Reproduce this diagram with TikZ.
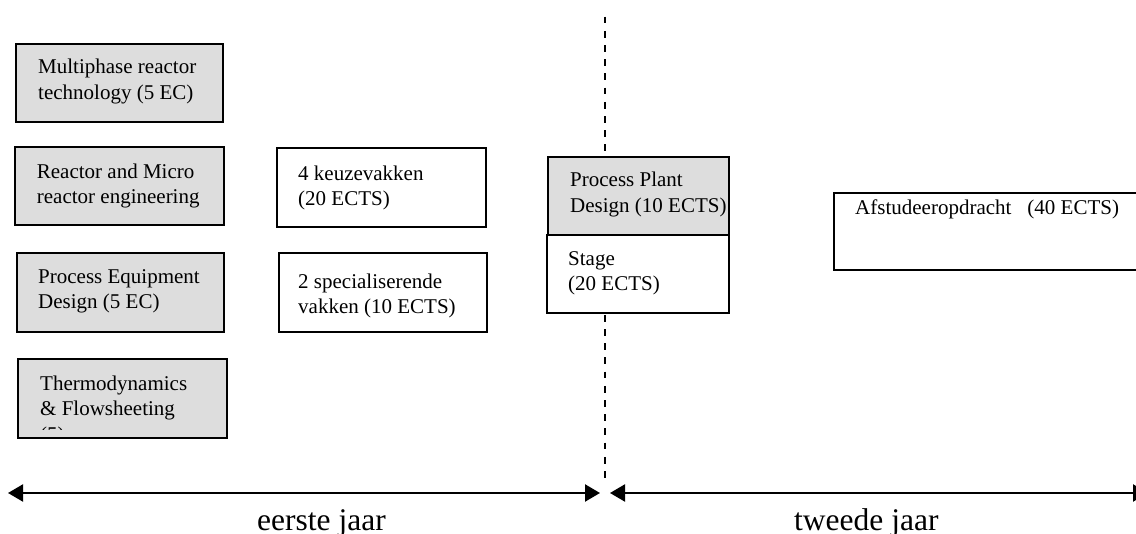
\documentclass[tikz,border=0pt]{standalone}
\usepackage{fontspec}
\setmainfont{Liberation Serif}
\usetikzlibrary{arrows.meta,fit}
\definecolor{boxgray}{RGB}{221,221,221}
\begin{document}
\begin{tikzpicture}[x=1pt,y=-1pt,
  frame/.style={draw=black, line width=1.6pt, inner sep=0pt},
  gbox/.style={frame, fill=boxgray},
  wbox/.style={frame, fill=white},
  txt/.style={inner sep=0pt, anchor=north west, align=left, font=\fontsize{21}{25.5}\selectfont},
  lbl/.style={inner sep=0pt, anchor=base west, font=\fontsize{31.5}{38}\selectfont},
  dashline/.style={line width=1.8pt, dash pattern=on 6.7pt off 7.5pt},
  yeararrow/.style={line width=2.2pt, {Triangle[length=15pt,width=17pt]}-{Triangle[length=15pt,width=17pt]}}
]
\useasboundingbox (0,0) rectangle (1136,534);
\clip (0,0) rectangle (1136,534);

% dashed divider
\coordinate (dtop) at (605,16.7);
\coordinate (dbot) at (605,483);
\draw[dashline] (dtop) -- (dbot);

% boxes
\node[gbox, fit={(16,44) (223,122)}] (b1) {};
\node[gbox, fit={(15,147) (224,225)}] (b2) {};
\node[gbox, fit={(17,253) (224,332)}] (b3) {};
\node[gbox, fit={(18,359) (227,438)}] (b4) {};
\node[wbox, fit={(277,148) (486,227)}] (b5) {};
\node[wbox, fit={(279,253) (487,332)}] (b6) {};
\node[gbox, fit={(548,157) (729,235)}] (b7) {};
\node[wbox, fit={(547,235) (729,313)}] (b8) {};
\node[wbox, fit={(834,193) (1150,270)}] (b9) {};

% texts
\node[txt] (t1) at (38,55.5) {\strut Multiphase reactor\\technology (5 EC)};
\node[txt] (t2) at (36.7,160.2) {\strut Reactor and Micro\\reactor engineering};
\node[txt] (t3) at (38,265.2) {\strut Process Equipment\\Design (5 EC)};
\begin{scope}
  \clip (18,359) rectangle (227,429.5);
  \node[txt] (t4) at (40,372.2) {\strut Thermodynamics\\\& Flowsheeting\\(5)};
\end{scope}
\node[txt] (t5) at (298,162.2) {\strut 4 keuzevakken\\(20 ECTS)};
\node[txt] (t6) at (298,270.2) {\strut 2 specialiserende\\vakken (10 ECTS)};
\node[txt] (t7) at (570,168.9) {\strut Process Plant\\Design (10 ECTS)};
\node[txt] (t8) at (568,247.2) {\strut Stage\\(20 ECTS)};
\node[txt] (t9) at (855,196.2) {\strut Afstudeeropdracht\hspace{16pt}(40 ECTS)};

% year arrows
\coordinate (a1) at (8,493);
\coordinate (a2) at (600,493);
\coordinate (a3) at (610,493);
\coordinate (a4) at (1148,493);
\draw[yeararrow] (a1) -- (a2);
\draw[yeararrow] (a3) -- (a4);

\node[lbl] (l1) at (257,530) {eerste jaar};
\node[lbl] (l2) at (794,530) {tweede jaar};
\end{tikzpicture}
\end{document}
